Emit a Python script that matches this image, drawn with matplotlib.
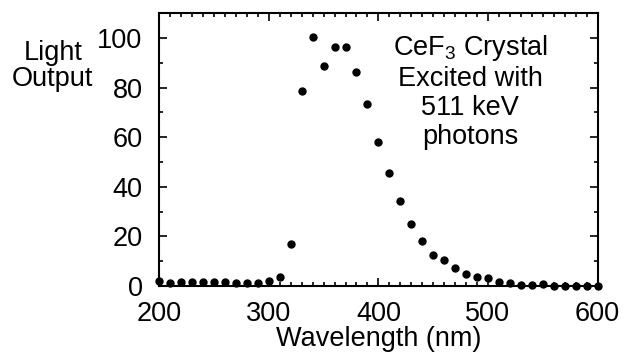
import matplotlib
matplotlib.use('Agg')
import matplotlib.pyplot as plt
from matplotlib.ticker import MultipleLocator

plt.rcParams['font.family'] = ['Liberation Sans', 'DejaVu Sans']
plt.rcParams['mathtext.fontset'] = 'custom'
plt.rcParams['mathtext.rm'] = 'Liberation Sans'
plt.rcParams['mathtext.default'] = 'regular'

# longitud de onda (nm) y salida de luz (relativa)
wavelength = [200, 210, 220, 230, 240, 250, 260, 270, 280, 290,
              300, 310, 320, 330, 340, 350, 360, 370, 380, 390,
              400, 410, 420, 430, 440, 450, 460, 470, 480, 490,
              500, 510, 520, 530, 540, 550, 560, 570, 580, 590, 600]
light_output = [2.0, 1.1, 1.7, 1.7, 1.7, 1.7, 1.7, 1.3, 1.3, 1.3,
                2.0, 3.5, 16.8, 78.8, 100.4, 88.9, 96.5, 96.5, 86.4, 73.2,
                58.0, 45.5, 34.4, 25.0, 18.3, 12.5, 10.6, 7.4, 4.8, 3.5,
                3.0, 1.7, 1.1, 0.3, 0.3, 0.7, 0.0, 0.0, 0.0, 0.0, 0.0]

fs = 19.5

fig = plt.figure(figsize=(6.37, 3.53), dpi=100)
ax = fig.add_axes([0.250, 0.190, 0.688, 0.7725])

ax.plot(wavelength, light_output, 'o', color='black', ms=5, clip_on=False)

ax.set_xlim(200, 600)
ax.set_ylim(0, 110)
ax.xaxis.set_major_locator(MultipleLocator(100))
ax.xaxis.set_minor_locator(MultipleLocator(10))
ax.yaxis.set_major_locator(MultipleLocator(20))
ax.yaxis.set_minor_locator(MultipleLocator(10))
ax.tick_params(which='both', direction='in', top=True, right=True,
               labelsize=fs, width=1.2)
ax.tick_params(which='major', length=6)
ax.tick_params(which='minor', length=3)
ax.tick_params(axis='x', pad=11)
ax.tick_params(axis='y', pad=12)
for s in ax.spines.values():
    s.set_linewidth(1.5)

ax.set_xlabel('Wavelength (nm)', fontsize=fs, labelpad=-1)
fig.text(0.083, 0.813, 'Light\nOutput', fontsize=fs, ha='center', va='center',
         linespacing=1.0)
ax.text(484, 102, 'CeF$_3$ Crystal\nExcited with\n511 keV\nphotons',
        fontsize=fs, ha='center', va='top', linespacing=1.15)

plt.savefig('out.png', dpi=100)
